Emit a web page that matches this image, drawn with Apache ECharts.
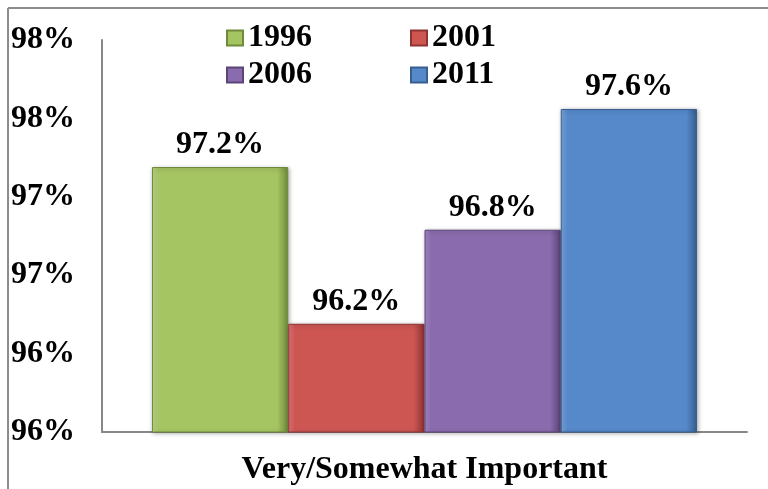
<!DOCTYPE html>
<html>
<head>
<meta charset="utf-8">
<script src="https://cdn.jsdelivr.net/npm/echarts@6/dist/echarts.min.js"></script>
<style>
html,body{margin:0;padding:0;background:#fff;}
#chart{width:768px;height:489px;}
</style>
</head>
<body>
<div id="chart"></div>
<script>
var categories = ['Very/Somewhat Important'];
var seriesNames = ['1996', '2001', '2006', '2011'];
var values1996 = [97.19];
var values2001 = [96.19];
var values2006 = [96.79];
var values2011 = [97.56];
var yTicks = [95.5, 96.0, 96.5, 97.0, 97.5, 98.0];

var colors = ['#A5C462', '#CD5653', '#8A6BAD', '#5689CA'];
var lightEdge = ['#BCD68A', '#E07A77', '#A68BC6', '#7EA6DB'];
var darkEdge = ['#6E8A3A', '#8E3432', '#5C4578', '#385F8F'];
var font = '"Liberation Serif", "Times New Roman", serif';
var dataSets = [values1996, values2001, values2006, values2011];

var chart = echarts.init(document.getElementById('chart'));
var series = seriesNames.map(function (name, i) {
  return {
    name: name,
    type: 'bar',
    data: dataSets[i],
    barGap: '0%',
    barCategoryGap: '15.5%',
    itemStyle: {
      color: {
        type: 'linear', x: 0, y: 0, x2: 1, y2: 0,
        colorStops: [
          { offset: 0, color: lightEdge[i] },
          { offset: 0.05, color: colors[i] },
          { offset: 0.92, color: colors[i] },
          { offset: 1, color: darkEdge[i] }
        ]
      },
      borderColor: darkEdge[i],
      borderWidth: 1,
      shadowColor: 'rgba(0,0,0,0.3)',
      shadowBlur: 4,
      shadowOffsetX: 1,
      shadowOffsetY: 1
    },
    label: {
      show: true,
      position: 'top',
      distance: 6,
      formatter: function (p) { return p.value.toFixed(1) + '%'; },
      fontFamily: font,
      fontWeight: 'bold',
      fontSize: 32,
      color: '#000'
    }
  };
});

var legendText = { fontFamily: font, fontWeight: 'bold', fontSize: 32, lineHeight: 32, color: '#000' };

chart.setOption({
  animation: false,
  backgroundColor: '#fff',
  color: colors,
  grid: { left: 102, right: 21, top: 40, bottom: 57, containLabel: false },
  legend: [
    { data: seriesNames.slice(0, 2), left: 226, top: 22, padding: 0, itemWidth: 16, itemHeight: 15, itemGap: 98, icon: 'rect', textStyle: legendText },
    { data: seriesNames.slice(2, 4), left: 226, top: 59, padding: 0, itemWidth: 16, itemHeight: 15, itemGap: 98, icon: 'rect', textStyle: legendText }
  ],
  xAxis: {
    type: 'category',
    data: categories,
    axisLine: { lineStyle: { color: '#888', width: 2 } },
    axisTick: { show: false },
    axisLabel: { fontFamily: font, fontWeight: 'bold', fontSize: 32, color: '#000', margin: 22 }
  },
  yAxis: {
    type: 'value',
    min: yTicks[0],
    max: yTicks[yTicks.length - 1],
    interval: 0.5,
    splitLine: { show: false },
    axisLine: { show: true, lineStyle: { color: '#888', width: 2 } },
    axisTick: { show: false },
    axisLabel: {
      fontFamily: font, fontWeight: 'bold', fontSize: 32, color: '#000', margin: 27,
      formatter: function (v) { return Math.round(v) + '%'; }
    }
  },
  graphic: [
    { type: 'line', shape: { x1: 8, y1: 8, x2: 768, y2: 8 }, style: { stroke: '#8c8c8c', lineWidth: 2 } },
    { type: 'line', shape: { x1: 8, y1: 8, x2: 8, y2: 489 }, style: { stroke: '#8c8c8c', lineWidth: 2 } }
  ],
  series: series
});
</script>
</body>
</html>
